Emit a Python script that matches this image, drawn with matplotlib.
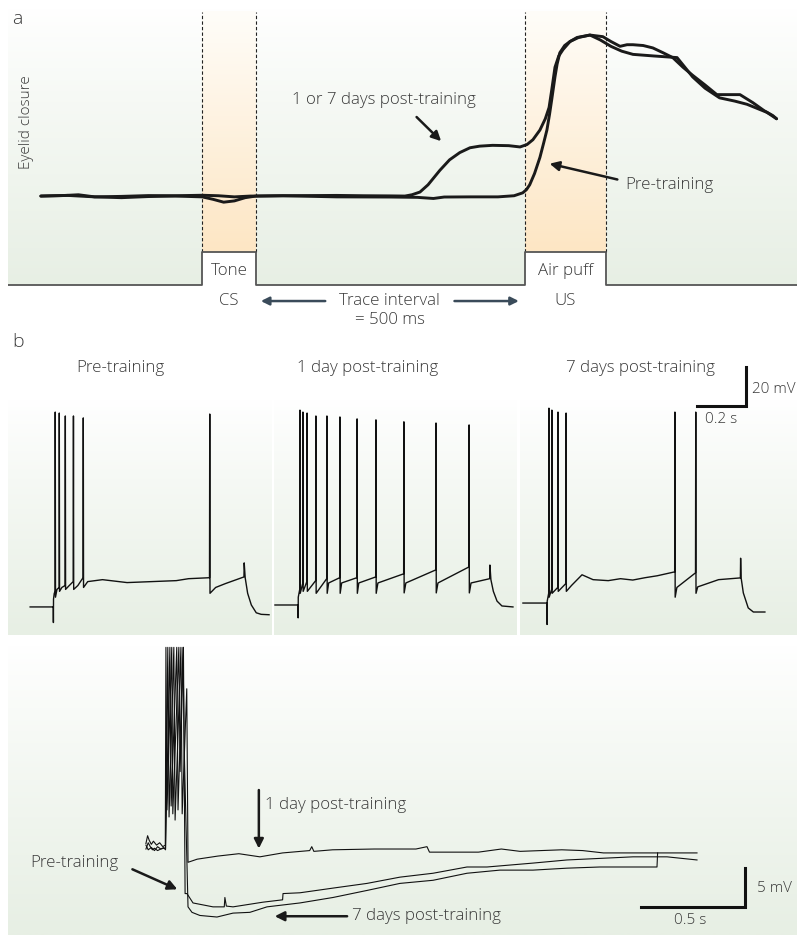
import numpy as np
import matplotlib
matplotlib.use('Agg')
import matplotlib.pyplot as plt
from matplotlib.colors import LinearSegmentedColormap

plt.rcParams['font.family'] = ['Open Sans', 'DejaVu Sans']
plt.rcParams['font.weight'] = 'light'

W, H = 797, 938
fig = plt.figure(figsize=(W / 100, H / 100), dpi=100)
TXT = '#3a3a3a'
FS = 12.2
GREEN = LinearSegmentedColormap.from_list('g', ['#ffffff', '#e7efe4'])
ORANGE = LinearSegmentedColormap.from_list('o', ['#fffdf9', '#fde6c4'])

# ---------------- data: panel a (eyelid closure, % of max vs ms) ----------------
cs_on, cs_off = -100, 0
us_on, us_off = 500, 650
stim_base, stim_high = -55.3, -35.0
post_t = [-400, -360, -330, -300, -250, -200, -150, -100, -70, -40, -10, 0, 50, 100, 150, 200, 250,
          277, 290, 305, 320, 342, 360, 379, 398, 416, 440, 470, 491, 504, 515, 528, 538, 545, 550,
          556, 563, 571, 584, 597, 621, 645, 660, 677, 690, 701, 720, 738, 757, 775, 794, 812, 835,
          857, 880, 900, 924, 945, 961, 968]
post_y = [0, 0.3, 0.8, -0.5, -0.2, 0.3, 0.2, 0.5, 0.2, -0.5, 0, 0, 0.2, 0.3, 0.4, 0.2, 0.1,
          0, 0.8, 2.5, 7, 16, 22.5, 27, 30, 31, 31.5, 31.3, 30.5, 32, 35, 41, 48, 55, 66,
          80, 87, 91, 96, 98.5, 100, 99, 96, 93, 94, 94, 93.5, 92, 89, 86, 80, 75, 69,
          63, 63, 63, 58, 53, 50, 48]
pre_t = [-400, -350, -300, -250, -200, -150, -100, -80, -60, -40, -20, 0, 50, 150, 250, 300, 330,
         350, 400, 450, 480, 496, 503, 509, 518, 528, 535, 541, 546, 550, 556, 560, 565, 574, 584,
         600, 621, 640, 660, 680, 701, 740, 783, 800, 812, 835, 862, 890, 913, 950, 968]
pre_y = [0, 0.4, -0.5, -1.0, -0.3, 0, -0.5, -2.0, -3.8, -3.0, -1.0, 0, 0.2, -0.5, -0.6, -0.8, -1.5,
         -0.6, -0.5, -0.5, 0.2, 2, 4, 7, 14, 24, 33, 41, 51, 60, 74, 82, 89, 93.5, 96,
         98.5, 100, 97, 93, 90, 88, 87, 86, 79, 74, 67, 61, 59, 57, 52, 48]

# ---------------- data: panel b top (membrane potential, mV vs ms) ----------------
b_pre = [(-94, -65), (-1, -65), (0, -65), (0.5, -73), (1, -61), (4, -58), (7.5, -57), (8, 35),
         (9, -60), (15, -56), (24, -55), (24.5, 34.5), (25.5, -57), (35, -55), (48, -54), (49, 33),
         (50, -56), (65, -54), (81, -52), (82, 33), (83, -56), (100, -54), (121, -50), (122, 32),
         (123, -55), (140, -52), (200, -51), (300, -52.5), (400, -52), (500, -51.5), (550, -50.5),
         (635, -50), (636, 34), (637, -58), (660, -55), (700, -53), (775, -49.6), (776, -42.4),
         (780, -50), (790, -58), (805, -64), (825, -68), (845, -68.8), (877, -69)]
b_1d = [(-94, -64), (-1, -64), (0, -64), (0.5, -70.6), (1, -60), (7, -56), (8, 36), (9, -58),
        (19, -53), (20, 35), (21, -57), (36, -52), (37, 34.5), (38, -57), (72, -51.5), (73, 33),
        (74, -58), (117, -50.5), (118, 33), (119, -58), (125, -52.7), (170, -50), (171, 32.5),
        (172, -58), (178, -52.7), (240, -50), (241, 31.5), (242, -58), (248, -52.7), (317, -49.6),
        (318, 31), (319, -58), (326, -52.7), (431, -48), (432, 30), (433, -57.8), (440, -52.7),
        (562, -46), (563, 29.4), (564, -57.8), (571, -52.7), (697, -44.5), (698, 28.4),
        (699, -57.8), (706, -52.7), (782, -50.5), (783, -43.5), (787, -51), (797, -57),
        (812, -62), (832, -64.5), (877, -65)]
b_7d = [(-98, -63), (-1, -63), (0, -63), (0.5, -74), (1, -62), (7, -58), (8, 37), (9, -60),
        (19, -56), (20, 36), (21, -58), (44, -55), (45, 35), (46, -57), (77, -53), (78, 34.5),
        (79, -57), (100, -54), (143, -48.5), (188, -51), (250, -51.5), (300, -50.5), (350, -51.2),
        (400, -50), (450, -49), (521, -47), (522, 35), (523, -60), (530, -55), (606, -47.5),
        (607, 35), (608, -58), (615, -54.7), (700, -51), (789, -50.1), (790, -40), (792, -50),
        (801, -57.8), (821, -65.5), (842, -67.6), (889, -67.6)]
b_titles = ['Pre-training', '1 day post-training', '7 days post-training']

# ---------------- data: panel b bottom (relative mV vs ms) ----------------
lo_pre = [(-96, 0.2), (-88, 1.2), (-80, 0.6), (-70, 0.1), (-60, 0.5), (-45, 0.0), (-30, 0.3),
          (-15, -0.2), (-3, 0.0), (0, 25.3), (5, 4.5), (28, 25.3), (33, 4.0), (62, 25.3), (68, 9.4),
          (84, 25.3), (92, -6.2), (101, -6.2), (130, -7.4), (226, -7.9), (280, -7.9), (283, -6.7),
          (290, -7.8), (322, -7.9), (466, -7.3), (560, -7.0), (562, -6.2), (643, -6.1), (802, -5.5),
          (965, -4.9), (1123, -4.1), (1282, -3.6), (1445, -2.8), (1541, -2.8), (1762, -2.3),
          (1925, -1.9), (2083, -1.7), (2242, -1.5), (2405, -1.5), (2549, -1.9)]
lo_1d = [(-96, -0.5), (-85, 0.3), (-75, -0.2), (-65, -0.6), (-55, -0.4), (-40, -0.7), (-25, -0.5),
         (-10, -0.4), (-2, -0.5), (9, 25.3), (15, 3.6), (38, 25.3), (44, 3.2), (72, 25.3), (78, 4.0),
         (100, 20.0), (106, -2.2), (150, -1.8), (250, -1.4), (350, -1.1), (451, -1.5), (560, -1.0),
         (690, -0.7), (700, -0.2), (710, -0.8), (800, -0.6), (1000, -0.5), (1200, -0.5), (1253, -0.2),
         (1265, -0.9), (1500, -0.9), (1610, -0.5), (1700, -0.8), (1900, -0.6), (2000, -0.7),
         (2100, -1.0), (2300, -1.0), (2549, -1.0)]
lo_7d = [(-96, 0.0), (-85, -0.6), (-70, -0.3), (-55, -0.7), (-40, -0.2), (-25, -0.5), (-10, -0.3),
         (-2, -0.6), (19, 25.3), (25, 5.0), (52, 25.3), (58, 4.5), (82, 25.3), (88, 12.0),
         (106, -7.9), (125, -8.6), (163, -9.0), (245, -9.2), (322, -8.7), (403, -8.6), (485, -7.9),
         (643, -7.4), (802, -6.7), (965, -5.8), (1123, -4.9), (1282, -4.5), (1445, -3.6),
         (1603, -3.2), (1762, -3.2), (1925, -2.95), (2083, -2.8), (2242, -2.8), (2357, -2.8),
         (2360, -1.0)]


def add_ax(x0, y0, x1, y1, xlim, ylim):
    ax = fig.add_axes([x0 / W, 1 - y1 / H, (x1 - x0) / W, (y1 - y0) / H])
    ax.set_xlim(*xlim)
    ax.set_ylim(*ylim)
    ax.set_axis_off()
    return ax


def gradient(ax, cmap, extent, gamma=0.8, z=0):
    g = np.linspace(0, 1, 256) ** gamma
    ax.imshow(g[:, None], cmap=cmap, vmin=0, vmax=1, extent=extent, origin='upper',
              aspect='auto', zorder=z, interpolation='bilinear')


def ftext(px, py, s, **kw):
    kw.setdefault('color', TXT)
    fig.text(px / W, 1 - py / H, s, **kw)


ARW = dict(arrowstyle='-|>', lw=1.8, color='#1a1a1a', mutation_scale=14)

# ================= panel a =================
axa = add_ax(8, 8, 797, 288, (-461, 1006), (-57.1, 116.8))
x0, x1 = axa.get_xlim()
y0, y1 = axa.get_ylim()
gradient(axa, GREEN, [x0, x1, y0, y1], gamma=0.9)
stim_x = [x0, cs_on, cs_on, cs_off, cs_off, us_on, us_on, us_off, us_off, x1]
stim_y = [stim_base, stim_base, stim_high, stim_high, stim_base, stim_base, stim_high,
          stim_high, stim_base, stim_base]
axa.fill_between(stim_x, stim_y, y0, color='white', zorder=1)
for a_, b_ in [(cs_on, cs_off), (us_on, us_off)]:
    gradient(axa, ORANGE, [a_, b_, stim_high, 114.3], gamma=1.0, z=1)
    axa.vlines([a_, b_], stim_high, 114.3, colors='#222222', linestyles=(0, (3, 2)), lw=0.8, zorder=2)
axa.plot(stim_x, stim_y, color='#555555', lw=1.3, zorder=3)
axa.plot(post_t, post_y, color='#1a1a1a', lw=2.1, zorder=4, solid_capstyle='round',
         solid_joinstyle='round')
axa.plot(pre_t, pre_y, color='#1a1a1a', lw=2.1, zorder=4, solid_capstyle='round',
         solid_joinstyle='round')
axa.set_xlim(x0, x1)
axa.set_ylim(y0, y1)

axa.text(238, 59.6, '1 or 7 days post-training', ha='center', va='center', fontsize=FS, color=TXT)
axa.annotate('', xy=(348, 32.9), xytext=(295, 50.3), arrowprops=ARW)
axa.text(686, 6.8, 'Pre-training', ha='left', va='center', fontsize=FS, color=TXT)
axa.annotate('', xy=(541, 20.5), xytext=(677, 9.9), arrowprops=ARW)
for xc, (l1, l2) in [((cs_on + cs_off) / 2, ('Tone', 'CS')), ((us_on + us_off) / 2, ('Air puff', 'US'))]:
    axa.text(xc, -46.5, l1, ha='center', va='center', fontsize=FS, color=TXT, zorder=5)
    axa.text(xc, -65.0, l2, ha='center', va='center', fontsize=FS, color=TXT, clip_on=False)
axa.text(249, -65.2, 'Trace interval', ha='center', va='center', fontsize=FS, color=TXT, clip_on=False)
axa.text(249, -77.0, '= 500 ms', ha='center', va='center', fontsize=FS, color=TXT, clip_on=False)
ac = '#3a4b5a'
axa.annotate('', xy=(4, -65.2), xytext=(134, -65.2), annotation_clip=False,
             arrowprops=dict(arrowstyle='-|>', lw=1.8, color=ac, mutation_scale=12))
axa.annotate('', xy=(494, -65.2), xytext=(364, -65.2), annotation_clip=False,
             arrowprops=dict(arrowstyle='-|>', lw=1.8, color=ac, mutation_scale=12))
ftext(12, 19, 'a', fontsize=14, va='center', ha='left')
ftext(27, 122, 'Eyelid closure', fontsize=11, rotation=90, ha='center', va='center')

# ================= panel b top =================
ylim_b = (-79.4, 41.2)
boxes = [(8, 272, (-184, 889)), (274, 517, (-98, 893.5)), (520, 797, (-110, 1020))]
traces = [b_pre, b_1d, b_7d]
title_x = [120, 368, 640]
axes_b = []
for (bx0, bx1, xl), tr in zip(boxes, traces):
    ax = add_ax(bx0, 400, bx1, 635, xl, ylim_b)
    gradient(ax, GREEN, [xl[0], xl[1], ylim_b[0], ylim_b[1]], gamma=0.9)
    arr = np.array(tr, dtype=float)
    ax.plot(arr[:, 0], arr[:, 1], color='#111111', lw=1.0, zorder=3, clip_on=False)
    ax.set_xlim(*xl)
    ax.set_ylim(*ylim_b)
    axes_b.append(ax)
for xt, t in zip(title_x, b_titles):
    ftext(xt, 368, t, fontsize=FS, ha='center', va='center')
ftext(12, 342, 'b', fontsize=14, va='center', ha='left')
ax3 = axes_b[2]
ax3.plot([612, 812, 812], [38.1, 38.1, 58.1], color='#111111', lw=2.2, clip_on=False,
         solid_joinstyle='miter', zorder=4)
ax3.text(835, 46.5, '20 mV', fontsize=11, color=TXT, ha='left', va='center', clip_on=False)
ax3.text(710, 31.0, '0.2 s', fontsize=11, color=TXT, ha='center', va='center', clip_on=False)

# ================= panel b bottom =================
axl = add_ax(8, 645, 797, 935, (-758, 3029), (-11.5, 25.6))
xl0, xl1 = axl.get_xlim()
yl0, yl1 = axl.get_ylim()
gradient(axl, GREEN, [xl0, xl1, yl0, yl1], gamma=0.9)
for tr in [lo_pre, lo_1d, lo_7d]:
    arr = np.array(tr, dtype=float)
    axl.plot(arr[:, 0], arr[:, 1], color='#111111', lw=0.8, zorder=3)
axl.set_xlim(xl0, xl1)
axl.set_ylim(yl0, yl1)
axl.text(475, 5.1, '1 day post-training', fontsize=FS, color=TXT, ha='left', va='center')
axl.annotate('', xy=(446, -0.8), xytext=(446, 7.4), arrowprops=ARW)
axl.text(-230, -2.3, 'Pre-training', fontsize=FS, color=TXT, ha='right', va='center')
axl.annotate('', xy=(67, -5.8), xytext=(-173, -2.95), arrowprops=ARW)
axl.text(893, -9.1, '7 days post-training', fontsize=FS, color=TXT, ha='left', va='center')
axl.annotate('', xy=(509, -9.1), xytext=(883, -9.1), arrowprops=ARW)
axl.plot([2280, 2779, 2779], [-7.95, -7.95, -2.95], color='#111111', lw=2.2,
         solid_joinstyle='miter', zorder=4)
axl.text(2837, -5.5, '5 mV', fontsize=11, color=TXT, ha='left', va='center')
axl.text(2515, -9.7, '0.5 s', fontsize=11, color=TXT, ha='center', va='center')

fig.savefig('out.png', dpi=100)
